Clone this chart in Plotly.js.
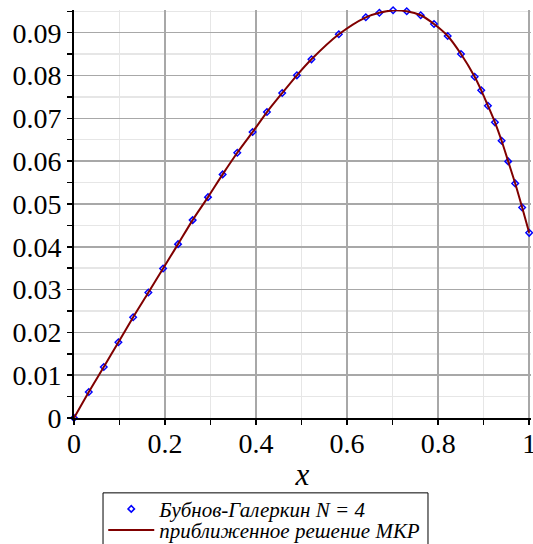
<!DOCTYPE html>
<html>
<head>
<meta charset="utf-8">
<script src="https://cdn.plot.ly/plotly-3.0.1.min.js"></script>
<style>html,body{margin:0;padding:0;background:#fff;}#chart{width:533px;height:544px;}</style>
</head>
<body>
<div id="chart"></div>
<script>
// Bubnov-Galerkin N = 4 points
const galerkinX = [0, 0.0325, 0.0654, 0.0976, 0.1299, 0.1634, 0.1957, 0.2286, 0.2606, 0.2944,
  0.3265, 0.3587, 0.3923, 0.4239, 0.4574, 0.4897, 0.5217, 0.5818, 0.6411, 0.6709,
  0.7010, 0.7310, 0.7617, 0.7909, 0.8210, 0.8502, 0.8802, 0.8947, 0.9094, 0.9248,
  0.9394, 0.9539, 0.9693, 0.9846, 1.0];
const galerkinY = [0, 0.00608, 0.01192, 0.01770, 0.02354, 0.02931, 0.03492, 0.04061, 0.04622, 0.05159,
  0.05690, 0.06195, 0.06679, 0.07146, 0.07590, 0.08004, 0.08378, 0.08963, 0.09360, 0.09467,
  0.09524, 0.09500, 0.09407, 0.09203, 0.08923, 0.08502, 0.07971, 0.07654, 0.07293, 0.06906,
  0.06475, 0.05994, 0.05479, 0.04918, 0.04325];
// Approximate finite-difference (MKR) solution curve
const mkrX = [0, 0.0325, 0.0654, 0.0976, 0.1299, 0.1634, 0.1957, 0.2286, 0.2606, 0.2944,
  0.3265, 0.3587, 0.3923, 0.4239, 0.4574, 0.4897, 0.5217, 0.5818, 0.6411, 0.6709,
  0.7010, 0.7310, 0.7617, 0.7909, 0.8210, 0.8502, 0.8802, 0.8947, 0.9094, 0.9248,
  0.9394, 0.9539, 0.9693, 0.9846, 1.0];
const mkrY = [0, 0.00608, 0.01192, 0.01770, 0.02354, 0.02931, 0.03492, 0.04061, 0.04622, 0.05159,
  0.05690, 0.06195, 0.06679, 0.07146, 0.07590, 0.08004, 0.08378, 0.08963, 0.09360, 0.09467,
  0.09520, 0.09500, 0.09407, 0.09203, 0.08923, 0.08502, 0.07971, 0.07654, 0.07293, 0.06906,
  0.06475, 0.05994, 0.05479, 0.04918, 0.04325];
const seriesNames = ["Бубнов-Галеркин N = 4", "приближенное решение МКР"];
const xTickVals = [0, 0.2, 0.4, 0.6, 0.8, 1];
const xTickText = ["0", "0.2", "0.4", "0.6", "0.8", "1"];
const yTickVals = [0, 0.01, 0.02, 0.03, 0.04, 0.05, 0.06, 0.07, 0.08, 0.09];
const yTickText = ["0", "0.01", "0.02", "0.03", "0.04", "0.05", "0.06", "0.07", "0.08", "0.09"];

const serif = '"Liberation Serif", "Times New Roman", serif';

const traces = [
  {
    x: galerkinX, y: galerkinY, name: seriesNames[0], type: "scatter", mode: "markers",
    marker: {symbol: "diamond-open", size: 5, color: "#0000ff", line: {color: "#0000ff", width: 1.5}},
    cliponaxis: false, legend: "legend"
  },
  {
    x: mkrX, y: mkrY, name: seriesNames[1], type: "scatter", mode: "lines",
    line: {color: "#800000", width: 2, shape: "spline", smoothing: 0.8},
    cliponaxis: false, legend: "legend2"
  }
];

const legendCommon = {
  xanchor: "left", yanchor: "middle",
  borderwidth: 0, bgcolor: "rgba(0,0,0,0)",
  font: {family: serif, size: 21, style: "italic", color: "#000000"},
  itemwidth: 46
};

const layout = {
  width: 533, height: 544,
  margin: {l: 74, r: 2, t: 10, b: 126, autoexpand: false},
  paper_bgcolor: "#ffffff", plot_bgcolor: "#ffffff",
  showlegend: true,
  legend: Object.assign({}, legendCommon, {x: 0.064, y: -0.2236}),
  legend2: Object.assign({}, legendCommon, {x: 0.064, y: -0.2752}),
  shapes: [{
    type: "rect", xref: "paper", yref: "paper", layer: "below",
    x0: 0.0635, x1: 0.7746, y0: -0.1835, y1: -0.40,
    line: {color: "#000000", width: 1}, fillcolor: "rgba(0,0,0,0)"
  }],
  xaxis: {
    range: [0, 1.004], tickvals: xTickVals, ticktext: xTickText,
    ticks: "outside", ticklen: 5, tickwidth: 1.5, tickcolor: "#000000",
    ticklabeloverflow: "allow", ticklabelstandoff: -6,
    showline: true, linecolor: "#000000", linewidth: 2,
    showgrid: true, gridcolor: "#a8a8a8", gridwidth: 1.5,
    zeroline: false,
    tickfont: {family: serif, size: 28, color: "#000000"},
    minor: {dtick: 0.1, ticks: "outside", ticklen: 5, tickcolor: "#000000", showgrid: true, gridcolor: "#e6e6e6", gridwidth: 1.5},
    title: {text: "x", font: {family: serif, size: 31, style: "italic", color: "#000000"}, standoff: 6},
    automargin: false
  },
  yaxis: {
    range: [0, 0.0953], tickvals: yTickVals, ticktext: yTickText,
    ticks: "outside", ticklen: 5, tickwidth: 1.5, tickcolor: "#000000",
    ticklabeloverflow: "allow",
    showline: true, linecolor: "#000000", linewidth: 2,
    showgrid: true, gridcolor: "#a8a8a8", gridwidth: 1.5,
    zeroline: false,
    tickfont: {family: serif, size: 28, color: "#000000"},
    minor: {dtick: 0.005, ticks: "outside", ticklen: 5, tickcolor: "#000000", showgrid: true, gridcolor: "#e6e6e6", gridwidth: 1.5},
    automargin: false
  }
};

Plotly.newPlot("chart", traces, layout, {displayModeBar: false, staticPlot: true});
</script>
</body>
</html>
